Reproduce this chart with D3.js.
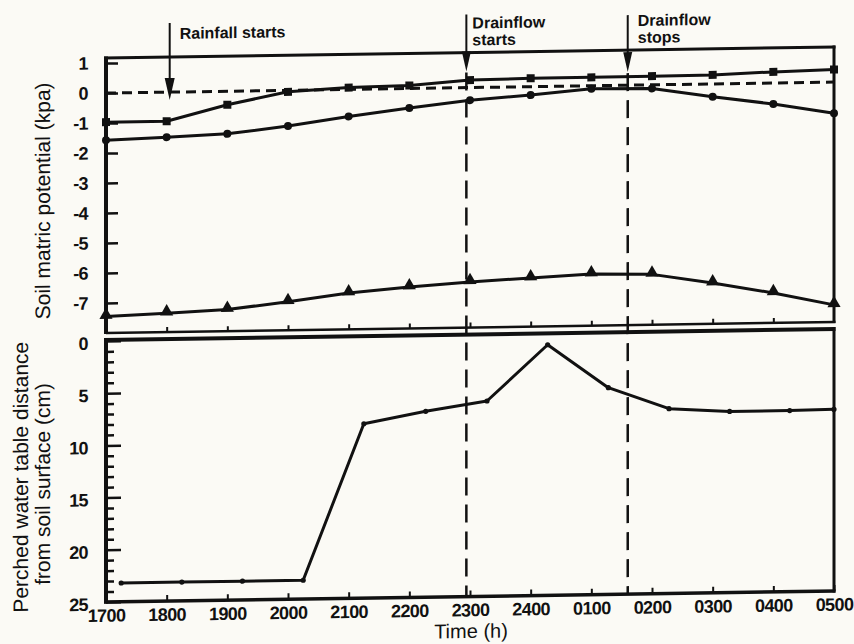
<!DOCTYPE html>
<html>
<head>
<meta charset="utf-8">
<script src="https://cdn.jsdelivr.net/npm/d3@7"></script>
<style>
  html, body { margin: 0; padding: 0; background: #fbfaf5; }
  svg { display: block; }
  text { font-family: "Liberation Sans", Arial, Helvetica, sans-serif; fill: #111; }
</style>
</head>
<body>
<script>
// ---- data -------------------------------------------------------------
// hours after 17:00 for each axis tick, with the clock label it carries
const hourTicks = [0, 1, 2, 3, 4, 5, 6, 7, 8, 9, 10, 11, 12];
const hourLabels = ["1700", "1800", "1900", "2000", "2100", "2200", "2300",
                    "2400", "0100", "0200", "0300", "0400", "0500"];

// soil matric potential (kPa), read hourly
const probeTimes = [0, 1, 2, 3, 4, 5, 6, 7, 8, 9, 10, 11, 12];
const potentialSquares   = [-0.97, -0.97, -0.45, -0.05, 0.06, 0.10, 0.25, 0.28, 0.28, 0.29, 0.30, 0.37, 0.42];
const potentialCircles   = [-1.57, -1.50, -1.42, -1.19, -0.90, -0.65, -0.42, -0.28, -0.10, -0.12, -0.43, -0.70, -1.04];
const potentialTriangles = [-7.45, -7.37, -7.28, -7.05, -6.79, -6.62, -6.48, -6.38, -6.28, -6.32, -6.64, -7.00, -7.43];
const potentialReference = 0;

const potentialTicks = [1, 0, -1, -2, -3, -4, -5, -6, -7];
const potentialTickLabels = ["1", "0", "-1", "-2", "-3", "-4", "-5", "-6", "-7"];

// perched water table depth below the soil surface (cm)
const tableTimes = [0.25, 1.25, 2.25, 3.25, 4.25, 5.27, 6.28, 7.28, 8.28, 9.28, 10.28, 11.27, 12];
const tableDepth = [23.2, 23.2, 23.2, 23.2, 8.3, 7.2, 6.3, 1.0, 5.2, 7.3, 7.65, 7.65, 7.6];
const depthTicks = [0, 5, 10, 15, 20, 25];
const depthMinorTicks = [1, 2, 3, 4, 6, 7, 8, 9, 11, 12, 13, 14, 16, 17, 18, 19, 21, 22, 23, 24];

// event markers along the time axis
const eventRainStart = 1.05;
const eventDrainStart = 5.94;
const eventDrainStop = 8.6;

// ---- layout -----------------------------------------------------------
const W = 854, H = 644;
const svg = d3.select("body").append("svg").attr("width", W).attr("height", H);
svg.append("rect").attr("width", W).attr("height", H).attr("fill", "#fbfaf5");

// the printed figure sits slightly tilted on the page
const g = svg.append("g")
  .attr("transform", "translate(106,0) skewY(-0.866) translate(-106,0)");

const x = d3.scaleLinear().domain([0, 12]).range([106, 834]);
const yTop = d3.scaleLinear().domain([-8, 1.17]).range([333, 58]);
const yBot = d3.scaleLinear().domain([0, 25]).range([341, 602]);

const ink = "#111";

function hline(y, x0, x1, w) {
  g.append("line").attr("x1", x0).attr("x2", x1).attr("y1", y).attr("y2", y)
    .attr("stroke", ink).attr("stroke-width", w);
}
function vline(xp, y0, y1, w) {
  g.append("line").attr("x1", xp).attr("x2", xp).attr("y1", y0).attr("y2", y1)
    .attr("stroke", ink).attr("stroke-width", w);
}
function styleTickText(sel) {
  sel.attr("font-size", 18).attr("font-weight", "bold")
    .attr("letter-spacing", "-0.6px").attr("fill", ink);
}

// ---- upper panel: soil matric potential --------------------------------
const [tx0, tx1] = x.range();
const [ty1, ty0] = yTop.range();
hline(ty0, tx0 - 2, tx1 + 1.5, 3);
vline(tx1, ty0 - 1.5, ty1 + 1, 3);
hline(ty1, tx0, tx1 + 1.5, 2.5);

// dashed zero reference
g.append("line")
  .attr("x1", tx0).attr("x2", tx1)
  .attr("y1", yTop(potentialReference)).attr("y2", yTop(potentialReference))
  .attr("stroke", ink).attr("stroke-width", 3).attr("stroke-dasharray", "10,6");

const topAxis = g.append("g").attr("transform", `translate(${tx0},0)`)
  .call(d3.axisLeft(yTop).tickValues(potentialTicks)
    .tickFormat((d, i) => potentialTickLabels[i])
    .tickSizeInner(-12).tickSizeOuter(0).tickPadding(18));
topAxis.select(".domain").remove();
topAxis.selectAll("line").attr("stroke", ink).attr("stroke-width", 2.5);
styleTickText(topAxis.selectAll("text"));
vline(tx0, ty0 - 1.5, ty1 + 1, 4);

const topBottomTicks = g.append("g").attr("transform", `translate(0,${ty1})`)
  .call(d3.axisBottom(x).tickValues(hourTicks.slice(1, -1)).tickFormat("")
    .tickSizeInner(-5).tickSizeOuter(0));
topBottomTicks.select(".domain").remove();
topBottomTicks.selectAll("line").attr("stroke", ink).attr("stroke-width", 2);

const potentialLine = d3.line().x((d, i) => x(probeTimes[i])).y(d => yTop(d));
[potentialSquares, potentialCircles, potentialTriangles].forEach(s => {
  g.append("path").attr("d", potentialLine(s))
    .attr("fill", "none").attr("stroke", ink).attr("stroke-width", 3)
    .attr("stroke-linejoin", "round");
});

g.selectAll("rect.sq").data(potentialSquares).join("rect").attr("class", "sq")
  .attr("x", (d, i) => x(probeTimes[i]) - 4).attr("y", d => yTop(d) - 4)
  .attr("width", 8).attr("height", 8).attr("fill", ink);
g.selectAll("circle.ci").data(potentialCircles).join("circle").attr("class", "ci")
  .attr("cx", (d, i) => x(probeTimes[i])).attr("cy", d => yTop(d))
  .attr("r", 4).attr("fill", ink);
const tri = d3.symbol().type(d3.symbolTriangle).size(75);
g.selectAll("path.tr").data(potentialTriangles).join("path").attr("class", "tr")
  .attr("d", tri)
  .attr("transform", (d, i) => `translate(${x(probeTimes[i])},${yTop(d) - 1.5})`)
  .attr("fill", ink);

// ---- lower panel: perched water table ----------------------------------
const [by0, by1] = yBot.range();
hline(by0 - 1, tx0 - 2, tx1 + 1.5, 4);
vline(tx1, by0 - 3, by1 + 1.5, 3);

const botAxis = g.append("g").attr("transform", `translate(${tx0},0)`)
  .call(d3.axisLeft(yBot).tickValues(depthTicks).tickFormat(d3.format("d"))
    .tickSizeInner(-15).tickSizeOuter(0).tickPadding(18));
botAxis.select(".domain").remove();
botAxis.selectAll("line").attr("stroke", ink).attr("stroke-width", 2.5);
styleTickText(botAxis.selectAll("text").attr("dy", "0.45em"));

const botMinor = g.append("g").attr("transform", `translate(${tx0},0)`)
  .call(d3.axisLeft(yBot).tickValues(depthMinorTicks).tickFormat("")
    .tickSizeInner(-8).tickSizeOuter(0));
botMinor.select(".domain").remove();
botMinor.selectAll("line").attr("stroke", ink).attr("stroke-width", 2.5);

const timeAxis = g.append("g").attr("transform", `translate(0,${by1})`)
  .call(d3.axisBottom(x).tickValues(hourTicks)
    .tickFormat((d, i) => hourLabels[i])
    .tickSizeInner(-6).tickSizeOuter(0).tickPadding(7));
timeAxis.select(".domain").remove();
timeAxis.selectAll("line").attr("stroke", ink).attr("stroke-width", 2);
styleTickText(timeAxis.selectAll("text"));
hline(by1, tx0 - 2, tx1 + 1.5, 3.5);
vline(tx0, by0 - 3, by1 + 1.5, 4);

const tableLine = d3.line().x((d, i) => x(tableTimes[i])).y(d => yBot(d));
g.append("path").attr("d", tableLine(tableDepth))
  .attr("fill", "none").attr("stroke", ink).attr("stroke-width", 3)
  .attr("stroke-linejoin", "round");
g.selectAll("circle.wt").data(tableDepth).join("circle").attr("class", "wt")
  .attr("cx", (d, i) => x(tableTimes[i])).attr("cy", d => yBot(d))
  .attr("r", 2.6).attr("fill", ink);

// ---- event arrows and drainflow period ---------------------------------
function arrow(t, yStart, yTip, headLen, halfW) {
  const xp = x(t);
  vline(xp, yStart, yTip - headLen + 2, 2);
  g.append("path")
    .attr("d", `M${xp - halfW},${yTip - headLen} L${xp + halfW},${yTip - headLen} L${xp},${yTip} Z`)
    .attr("fill", ink);
}
arrow(eventRainStart, 24, 101, 22, 5);
arrow(eventDrainStart, 20, 77, 20, 4.5);
arrow(eventDrainStop, 23, 80, 20, 4.5);

[[eventDrainStart, 78], [eventDrainStop, 81]].forEach(([t, y0]) => {
  g.append("line").attr("x1", x(t)).attr("x2", x(t)).attr("y1", y0).attr("y2", by1)
    .attr("stroke", ink).attr("stroke-width", 2.5).attr("stroke-dasharray", "18,9");
});

const note = (xp, yp, s) => g.append("text").attr("x", xp).attr("y", yp)
  .attr("font-size", 16).attr("font-weight", "bold").text(s);
note(x(eventRainStart) + 10, 40, "Rainfall starts");
note(x(eventDrainStart) + 6, 34, "Drainflow");
note(x(eventDrainStart) + 6, 51, "starts");
note(x(eventDrainStop) + 10, 34, "Drainflow");
note(x(eventDrainStop) + 10, 51, "stops");

// ---- axis titles -------------------------------------------------------
g.append("text").attr("transform", "translate(50,200) rotate(-90)")
  .attr("text-anchor", "middle").attr("font-size", 21)
  .text("Soil matric potential (kpa)");
g.append("text").attr("transform", "translate(28,476) rotate(-90)")
  .attr("text-anchor", "middle").attr("font-size", 21)
  .text("Perched water table distance");
g.append("text").attr("transform", "translate(50,483) rotate(-90)")
  .attr("text-anchor", "middle").attr("font-size", 21)
  .text("from soil surface (cm)");
g.append("text").attr("x", 471).attr("y", 643.5)
  .attr("text-anchor", "middle").attr("font-size", 20)
  .text("Time (h)");
</script>
</body>
</html>
